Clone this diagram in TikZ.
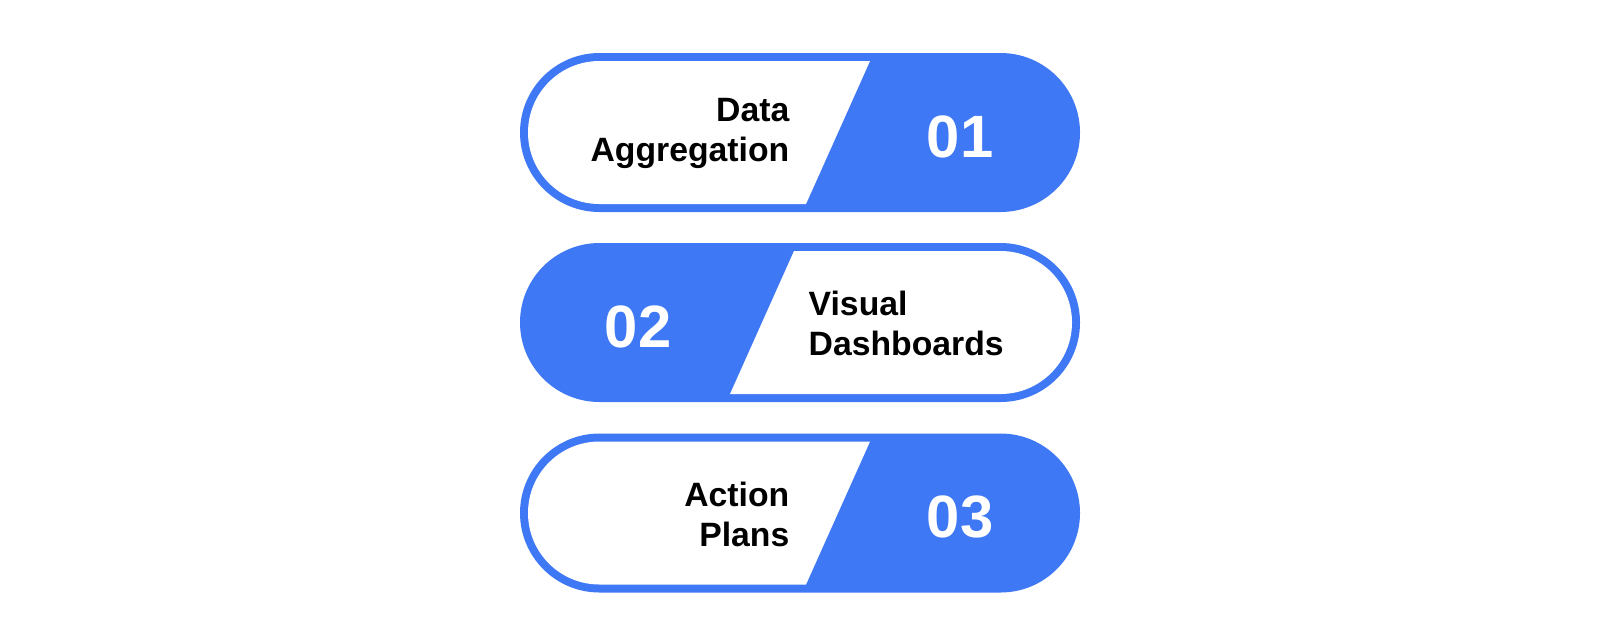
\documentclass[tikz,border=0pt]{standalone}
\usepackage{fontspec}
\setmainfont{Liberation Sans}
\definecolor{pillblue}{HTML}{3F78F5}
\begin{document}
\begin{tikzpicture}[
    label_style/.style={font=\fontsize{9.6}{11.4}\selectfont\bfseries, text=black, inner sep=0pt},
    num_style/.style={font=\fontsize{17}{20}\selectfont\bfseries, text=white, inner sep=0pt},
    pill_style/.style={fill=pillblue, rounded corners=7.95mm},
    inner_style/.style={fill=white, rounded corners=7.15mm}
]
\useasboundingbox[fill=white] (0,0) rectangle (16,6.34);
% Pill 1: Data Aggregation
\begin{scope}[shift={(8,5.015)}]
    \fill[pill_style] (-2.8,-0.795) rectangle (2.8,0.795);
    \begin{scope}
        \clip (-3,-0.715) -- (0.06,-0.715) -- (0.70,0.715) -- (-3,0.715) -- cycle;
        \fill[inner_style] (-2.72,-0.715) rectangle (2.72,0.715);
    \end{scope}
    \node[label_style, align=right, anchor=east] (agg) at (-0.1,-0.01) {Data\\Aggregation};
    \node[num_style] (n1) at (1.6,-0.04) {01};
\end{scope}
% Pill 2: Visual Dashboards
\begin{scope}[shift={(8,3.115)}]
    \fill[pill_style] (-2.8,-0.795) rectangle (2.8,0.795);
    \begin{scope}
        \clip (3,-0.715) -- (-0.70,-0.715) -- (-0.06,0.715) -- (3,0.715) -- cycle;
        \fill[inner_style] (-2.72,-0.715) rectangle (2.72,0.715);
    \end{scope}
    \node[label_style, align=left, anchor=west] (dash) at (0.08,-0.01) {Visual\\Dashboards};
    \node[num_style] (n2) at (-1.62,-0.04) {02};
\end{scope}
% Pill 3: Action Plans
\begin{scope}[shift={(8,1.21)}]
    \fill[pill_style] (-2.8,-0.795) rectangle (2.8,0.795);
    \begin{scope}
        \clip (-3,-0.715) -- (0.06,-0.715) -- (0.70,0.715) -- (-3,0.715) -- cycle;
        \fill[inner_style] (-2.72,-0.715) rectangle (2.72,0.715);
    \end{scope}
    \node[label_style, align=right, anchor=east] (plans) at (-0.1,-0.01) {Action\\Plans};
    \node[num_style] (n3) at (1.6,-0.04) {03};
\end{scope}
\end{tikzpicture}
\end{document}
